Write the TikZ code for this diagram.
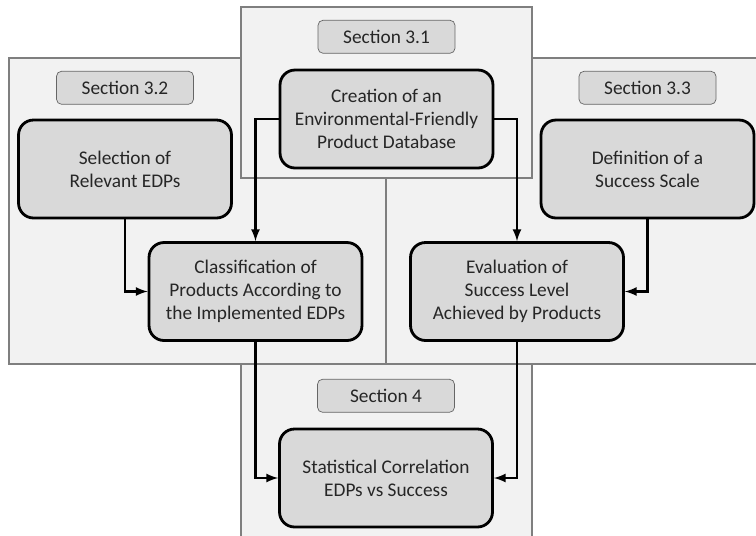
\documentclass[tikz,border=0pt]{standalone}
\usepackage{fontspec}
\setmainfont{Carlito}
\usetikzlibrary{positioning,arrows}
\definecolor{panelgray}{HTML}{F2F2F2}
\definecolor{boxgray}{HTML}{D9D9D9}
\definecolor{edgegray}{HTML}{7F7F7F}
\colorlet{textgray}{black!85}

\begin{document}
\begin{tikzpicture}[
    x=0.02cm, y=-0.02cm,
    panel/.style={
        draw=edgegray,
        fill=panelgray,
        line width=0.6pt
    },
    secbox/.style={
        draw=black!60,
        fill=boxgray,
        text=textgray,
        rounded corners=0.1cm,
        minimum width=2.74cm,
        minimum height=0.66cm,
        font=\fontsize{11}{13.2}\selectfont
    },
    task/.style={
        draw=black,
        fill=boxgray,
        text=textgray,
        line width=1.6pt,
        rounded corners=0.3cm,
        minimum width=4.26cm,
        minimum height=1.96cm,
        align=center,
        font=\fontsize{11}{13.2}\selectfont
    },
    flow/.style={
        -latex,
        line width=1.3pt
    }
    ]
    \clip (0,0) rectangle (756,535);
    % panels, one per section
    \draw[panel] (9,58) rectangle (386,364);
    \draw[panel] (386,58) rectangle (770,364);
    \draw[panel] (241,7) rectangle (532,178);
    \draw[panel] (241,364) rectangle (532,550);
    % work steps
    \node[task] (create) at (386.5,119) 
        {Creation of an\\Environmental-Friendly\\Product Database};
    \node[task] (select) at (125,169) 
        {Selection of\\Relevant EDPs};
    \node[task] (define) at (647.5,169) 
        {Definition of a\\Success Scale};
    \node[task] (classify) at (255.5,291.5) 
        {Classification of\\Products According to\\the Implemented EDPs};
    \node[task] (evaluate) at (517,291.5) 
        {Evaluation of\\Success Level\\Achieved by Products};
    \node[task] (stat) at (386,478) 
        {Statistical Correlation\\EDPs vs Success};
    % section labels
    \node[secbox,above=0.3cm of create] (s31) {Section 3.1};
    \node[secbox,above=0.28cm of select] (s32) {Section 3.2};
    \node[secbox,above=0.28cm of define] (s33) {Section 3.3};
    \node[secbox,above=0.3cm of stat] (s4) {Section 4};
    % connectors
    \draw[flow] (create.west) -| (classify.north);
    \draw[flow] (create.east) -| (evaluate.north);
    \draw[flow] (select.south) |- (classify.west);
    \draw[flow] (define.south) |- (evaluate.east);
    \draw[flow] (classify.south) |- (stat.west);
    \draw[flow] (evaluate.south) |- (stat.east);
    \end{tikzpicture}
\end{document}
